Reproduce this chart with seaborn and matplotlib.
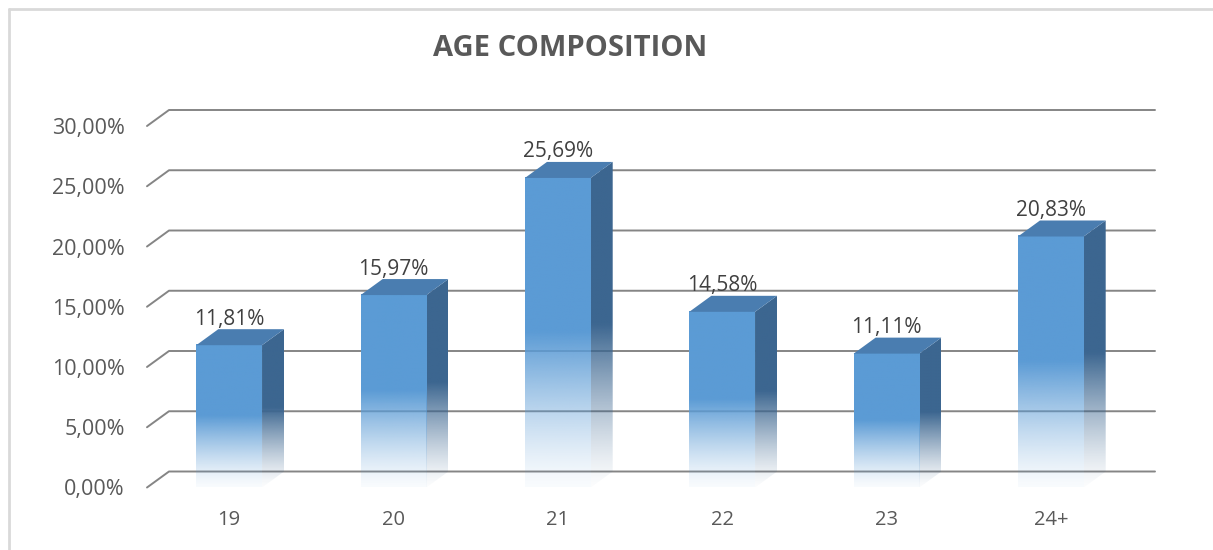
import numpy as np
import matplotlib
matplotlib.use("Agg")
import matplotlib.pyplot as plt
import matplotlib.colors as mcolors
from matplotlib.patches import Polygon
from matplotlib.lines import Line2D
import seaborn as sns

# data
ages = ["19", "20", "21", "22", "23", "24+"]
shares = [11.81, 15.97, 25.69, 14.58, 11.11, 20.83]
bar_labels = ["11,81%", "15,97%", "25,69%", "14,58%", "11,11%", "20,83%"]
y_ticks = [0, 5, 10, 15, 20, 25, 30]
y_tick_labels = ["0,00%", "5,00%", "10,00%", "15,00%", "20,00%", "25,00%", "30,00%"]

front_col = "#5b9bd5"
side_col = "#3c6690"
top_col = "#4a7db0"
grid_col = "#858585"
text_col = "#595959"

sns.set_theme(style="white")
plt.rcParams["font.family"] = ["Open Sans", "DejaVu Sans"]

W, H = 1213, 550
fig = plt.figure(figsize=(W / 100, H / 100), dpi=100)
ax_l, ax_r, ax_b, ax_t = 147, 1133, 487.5, 126
ax = fig.add_axes([ax_l / W, 1 - ax_b / H, (ax_r - ax_l) / W, (ax_b - ax_t) / H])

sns.barplot(x=ages, y=shares, color=front_col, width=0.4, ax=ax)
ax.set_xlim(-0.5, 5.5)
ax.set_ylim(0, 30)

# 3d depth offset (pixels -> data units)
ppx = (ax_r - ax_l) / 6
ppy = (ax_b - ax_t) / 30
dx = 22 / ppx
dy = 16 / ppy

# back wall gridlines with left floor stubs
for yv in y_ticks:
    ax.plot([-0.5, -0.5 + dx, 5.5 + dx], [yv, yv + dy, yv + dy],
            color=grid_col, lw=1.4, zorder=1, clip_on=False)


def fade_img(rgb, n=200, floor=0.04):
    t = np.linspace(0, 1, n)
    a = floor + (1 - floor) * np.clip(t / 0.5, 0, 1) ** 1.3
    img = np.zeros((n, 1, 4))
    img[:, 0, :3] = mcolors.to_rgb(rgb)
    img[:, 0, 3] = a
    return img


for p in list(ax.patches):
    x0 = p.get_x()
    w = p.get_width()
    h = p.get_height()
    p.set_visible(False)
    # front face
    ax.imshow(fade_img(front_col), extent=[x0, x0 + w, 0, h], origin="lower",
              aspect="auto", zorder=4, interpolation="bilinear")
    # side face
    side = Polygon([(x0 + w, 0), (x0 + w, h), (x0 + w + dx, h + dy), (x0 + w + dx, dy)],
                   closed=True, facecolor="none", edgecolor="none", transform=ax.transData)
    ax.add_patch(side)
    im = ax.imshow(fade_img(side_col, floor=0.02), extent=[x0 + w, x0 + w + dx, 0, h + dy],
                   origin="lower", aspect="auto", zorder=3, interpolation="bilinear")
    im.set_clip_path(side)
    # top face
    ax.add_patch(Polygon([(x0, h), (x0 + w, h), (x0 + w + dx, h + dy), (x0 + dx, h + dy)],
                         closed=True, facecolor=top_col, edgecolor="none", zorder=4))

ax.set_xlim(-0.5, 5.5)
ax.set_ylim(0, 30)

for p_x, h, lab in zip(range(len(ages)), shares, bar_labels):
    ax.annotate(lab, xy=(p_x, h), xytext=(0, 26), textcoords="offset pixels",
                ha="center", va="center", fontsize=15, color="#404040", zorder=6)

ax.set_yticks(y_ticks)
ax.set_yticklabels(y_tick_labels)
ax.tick_params(axis="y", length=0, pad=16, labelsize=15.5, labelcolor=text_col)
ax.tick_params(axis="x", length=0, pad=16, labelsize=14.5, labelcolor=text_col)
ax.set_xlabel("")
ax.set_ylabel("")
sns.despine(ax=ax, left=True, bottom=True)
ax.patch.set_alpha(0)

fig.text(570 / W, 1 - 48 / H, "AGE COMPOSITION", ha="center", va="center",
         fontsize=21, fontweight="bold", color=text_col)

# chart border (top and left)
bx, by = 8.5 / W, 1 - 8.5 / H
fig.add_artist(Line2D([bx, 1], [by, by], transform=fig.transFigure, color="#d9d9d9", lw=2))
fig.add_artist(Line2D([bx, bx], [0, by], transform=fig.transFigure, color="#d9d9d9", lw=2))

fig.savefig("out.png", dpi=100, facecolor="white")
